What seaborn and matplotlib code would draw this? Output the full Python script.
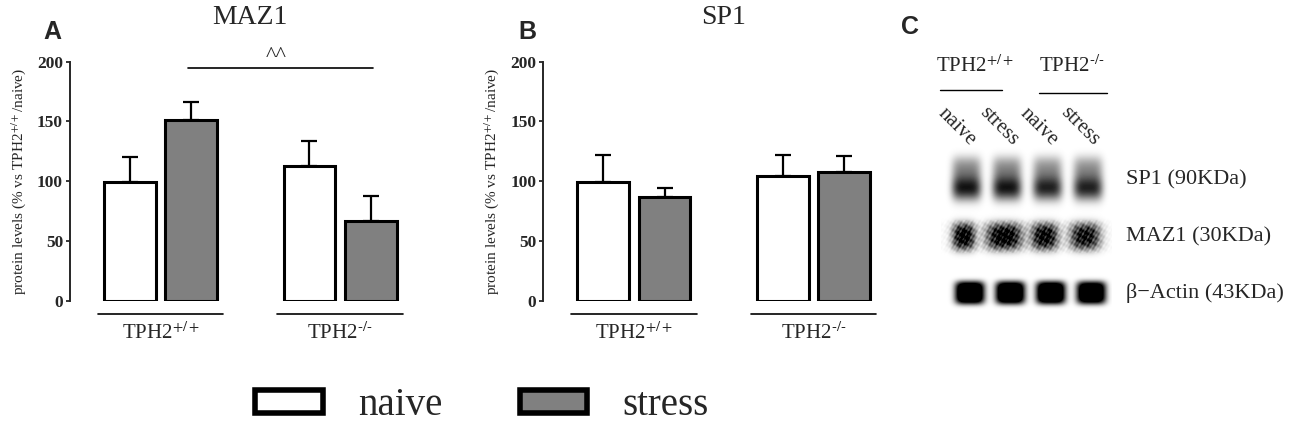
import numpy as np
import pandas as pd
import seaborn as sns
import matplotlib.pyplot as plt
from matplotlib.patches import Patch

# datos
genotypes = ['TPH2$^{+/+}$', 'TPH2$^{\u2010/\u2010}$']
conditions = ['naive', 'stress']
maz1_mean = [99, 151, 113, 67]
maz1_sem = [21, 15, 21, 21]
sp1_mean = [99, 87, 104, 108]
sp1_sem = [23, 7, 18, 13]

# western blot (intensidad relativa y anchura de cada banda)
blot_rows = ['SP1 (90KDa)', 'MAZ1 (30KDa)', 'β−Actin (43KDa)']
lane_labels = ['naive', 'stress', 'naive', 'stress']
sp1_band = [0.9, 0.9, 0.85, 0.85]
maz1_band = [1.0, 1.0, 0.95, 0.9]
maz1_width = [0.28, 0.44, 0.33, 0.37]
actin_band = [1.0, 1.0, 1.0, 0.95]

sns.set_style('ticks')
plt.rcParams['font.family'] = ['Liberation Serif', 'DejaVu Serif']
plt.rcParams['mathtext.fontset'] = 'stix'

fig = plt.figure(figsize=(13, 4.25), dpi=100)

pal = {'naive': 'white', 'stress': '#808080'}


def bar_panel(ax, means, sems, title):
    df = pd.DataFrame({
        'genotype': [g for g in genotypes for _ in conditions],
        'condition': conditions * 2,
        'value': means,
    })
    sns.barplot(data=df, x='genotype', y='value', hue='condition', palette=pal,
                edgecolor='black', linewidth=2.2, width=0.685, gap=0.16,
                errorbar=None, legend=False, ax=ax, zorder=2)
    bars = sorted(ax.patches, key=lambda p: p.get_x())
    xs = [p.get_x() + p.get_width() / 2 for p in bars]
    ax.errorbar(xs, means, yerr=[[0] * 4, sems], fmt='none', ecolor='black',
                elinewidth=1.6, capsize=5.5, capthick=1.6, zorder=1)
    ax.set_xlim(-0.504, 1.5)
    ax.set_ylim(0, 200)
    ax.set_yticks([0, 50, 100, 150, 200])
    ax.tick_params(axis='y', labelsize=12.5, length=3, width=1.3, pad=2)
    plt.setp(ax.get_yticklabels(), fontweight='bold')
    ax.set_xticks([])
    ax.set_xlabel('')
    ax.set_ylabel('protein levels (% vs TPH2$^{+/+}$/naive)', fontsize=11)
    ax.yaxis.set_label_coords(-0.118, 0.5)
    for s in ['top', 'right', 'bottom']:
        ax.spines[s].set_visible(False)
    ax.spines['left'].set_linewidth(1.4)
    ax.set_title(title, fontsize=20, pad=27)
    for i, g in enumerate(genotypes):
        ax.plot([i - 0.35, i + 0.35], [-11.4, -11.4], color='black', lw=1.2,
                clip_on=False)
        ax.text(i, -27, g, ha='center', va='center', fontsize=15)


axA = fig.add_axes([70 / 1300, 1 - 300.7 / 425, 360 / 1300, 239 / 425])
bar_panel(axA, maz1_mean, maz1_sem, 'MAZ1')
axA.plot([0.153, 1.183], [195, 195], color='black', lw=1.2, clip_on=False)
axA.text(0.643, 204, '^^', ha='center', va='center', fontsize=16)

axB = fig.add_axes([543.3 / 1300, 1 - 300.7 / 425, 360 / 1300, 239 / 425])
bar_panel(axB, sp1_mean, sp1_sem, 'SP1')

# panel C: blot
axC = fig.add_axes([940.6 / 1300, 1 - 327 / 425, 171 / 1300, 181 / 425])
gx, gy = np.meshgrid(np.linspace(-0.6, 3.6, 171), np.linspace(-0.6, 2.6, 181))
img = np.zeros_like(gx)


def blob(xc, yc, sx, sy, px, py):
    return np.exp(-(np.abs((gx - xc) / sx) ** px + np.abs((gy - yc) / sy) ** py))


for lane in range(4):
    a = sp1_band[lane]
    img += 0.55 * a * blob(lane + 0.02, -0.03, 0.36, 0.38, 4, 4)
    img += 0.5 * a * blob(lane + 0.02, 0.14, 0.36, 0.2, 4, 2)
    img += maz1_band[lane] * blob(lane - 0.05, 1.0, maz1_width[lane], 0.24, 3, 3)
    img += 1.6 * actin_band[lane] * blob(lane + 0.1, 2.0, 0.36, 0.2, 4, 4)
# textura del gel en la fila de MAZ1
grain = (np.sin(gx * 41.3 + gy * 17.9) + np.sin(gy * 57.1 - gx * 23.7)
         + np.sin(gx * 71.9 + gy * 63.3)) / 6 + 0.5
row2 = (gy > 0.7) & (gy < 1.3)
img[row2] *= 0.7 + 0.6 * grain[row2]
img += 0.12 * blob(1.5, 1.0, 2.05, 0.28, 8, 6) * grain
axC.imshow(np.clip(img, 0, 1), extent=(-0.6, 3.6, 2.6, -0.6), cmap='gray_r',
           vmin=0, vmax=1, aspect='auto', interpolation='bilinear')
axC.set_xlim(-0.6, 3.6)
axC.set_ylim(2.6, -0.6)
axC.axis('off')
for row, lab in enumerate(blot_rows):
    axC.text(3.95, row, lab, ha='left', va='center', fontsize=16, clip_on=False)
axC.text(0.25, -2.02, genotypes[0], ha='center', va='center', fontsize=15)
axC.plot([-0.61, 0.91], [-1.59, -1.59], color='black', lw=1.0, clip_on=False)
axC.text(2.63, -2.02, genotypes[1], ha='center', va='center', fontsize=15)
axC.plot([1.82, 3.49], [-1.54, -1.54], color='black', lw=1.0, clip_on=False)
for i, lab in enumerate(lane_labels):
    axC.text(i - 0.2 + (0.02 if i % 2 else 0), -0.94, lab, ha='center',
             va='center', rotation=-45, fontsize=15, clip_on=False)

# letras de panel
for x, y, s in [(52, 32, 'A'), (527, 32, 'B'), (910, 27, 'C')]:
    fig.text(x / 1300, 1 - y / 425, s, ha='center', va='center', fontsize=18,
             fontweight='bold', family='Liberation Sans')

handles = [Patch(facecolor=pal[c], edgecolor='black', linewidth=4, label=c)
           for c in conditions]
fig.legend(handles=handles, loc='center left', bbox_to_anchor=(255 / 1300, 0.045),
           ncol=2, frameon=False, fontsize=28, handlelength=1.74,
           handleheight=0.51, handletextpad=0.9, columnspacing=2.0,
           borderpad=0, borderaxespad=0)

fig.savefig('out.png', dpi=100)
